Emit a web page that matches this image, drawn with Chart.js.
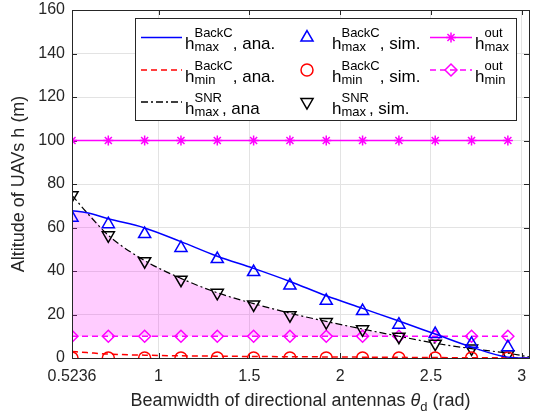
<!DOCTYPE html>
<html lang="en">
<head>
<meta charset="UTF-8">
<title>Altitude of UAVs vs beamwidth</title>
<script src="https://cdn.jsdelivr.net/npm/chart.js"></script>
<style>
    html, body { margin: 0; padding: 0; background: #fff; }
</style>
</head>
<body>
<canvas id="altChart" width="538" height="419"></canvas>
<script>
// x positions (rad)
const thetaSim = [0.5236, 0.7236, 0.9236, 1.1236, 1.3236, 1.5236, 1.7236, 1.9236, 2.1236, 2.3236, 2.5236, 2.7236, 2.9236];
const thetaAna = [0.5236, 0.606, 0.7236, 0.9236, 1.1236, 1.3236, 1.5236, 1.7236, 1.9236, 2.1236, 2.3236, 2.5236, 2.7236, 2.9236, 3.04];

// analytical curves
const backMaxAna = [67.7, 66.8, 64.0, 59.8, 53.5, 46.8, 41.2, 35.2, 28.6, 22.8, 17.0, 11.0, 5.0, 0.4, 0.0];
const backMinAna = [3.0, 2.5, 1.8, 1.3, 1.0, 0.85, 0.7, 0.6, 0.5, 0.4, 0.3, 0.2, 0.12, 0.05, 0.0];
const snrMaxAna = [74.8, 66.8, 56.4, 44.8, 36.6, 30.0, 25.0, 20.6, 16.8, 13.3, 10.0, 6.8, 4.3, 2.2, 0.5];

// simulation points
const backMaxSim = [64.5, 61.5, 57.0, 50.6, 45.5, 39.5, 33.3, 26.3, 21.6, 15.3, 11.0, 6.5, 5.0];
const backMinSim = [0, 0, 0, 0, 0, 0, 0, 0, 0, 0, 0, 0, 0];
const snrMaxSim = [74.8, 56.4, 44.5, 36.0, 30.0, 24.6, 19.7, 16.5, 13.2, 9.8, 6.6, 4.4, 1.7];

// outage bounds
const outMax = [100, 100, 100, 100, 100, 100, 100, 100, 100, 100, 100, 100, 100];
const outMin = [10, 10, 10, 10, 10, 10, 10, 10, 10, 10, 10, 10, 10];

const xTicks = [0.5236, 1, 1.5, 2, 2.5, 3];
const yTicks = [0, 20, 40, 60, 80, 100, 120, 140, 160];

const FONT = '"Liberation Sans", Arial, sans-serif';
const AXIS = '#262626';

function pts(xs, ys) {
    return xs.map((x, i) => ({ x: x, y: ys[i] }));
}

// shaded region: below min(BackC max, SNR max), above h_min^out
const shade = thetaAna.map((t, i) => ({ x: t, y: Math.max(outMin[0], Math.min(backMaxAna[i], snrMaxAna[i])) }));

const legendItems = [
    { col: 0, row: 0, color: '#0000ff', dash: [], sup: 'BackC', sub: 'max', rest: ', ana.' },
    { col: 0, row: 1, color: '#ff0000', dash: [6, 4], sup: 'BackC', sub: 'min', rest: ', ana.' },
    { col: 0, row: 2, color: '#000000', dash: [7, 3, 2, 3], sup: 'SNR', sub: 'max', rest: ', ana' },
    { col: 1, row: 0, color: '#0000ff', marker: 'triangle', rot: 0, r: 7, sup: 'BackC', sub: 'max', rest: ', sim.' },
    { col: 1, row: 1, color: '#ff0000', marker: 'circle', rot: 0, r: 6, sup: 'BackC', sub: 'min', rest: ', sim.' },
    { col: 1, row: 2, color: '#000000', marker: 'triangle', rot: 180, r: 7, sup: 'SNR', sub: 'max', rest: ', sim.' },
    { col: 2, row: 0, color: '#ff00ff', dash: [], marker: 'star', rot: 0, r: 5, sup: 'out', sub: 'max', rest: '' },
    { col: 2, row: 1, color: '#ff00ff', dash: [6, 4], marker: 'rectRot', rot: 0, r: 6, sup: 'out', sub: 'min', rest: '' }
];

function drawScripted(ctx, x, y, sup, sub, rest) {
    ctx.textBaseline = 'alphabetic';
    ctx.textAlign = 'left';
    ctx.font = '17px ' + FONT;
    ctx.fillText('h', x, y);
    x += ctx.measureText('h').width;
    ctx.font = '13px ' + FONT;
    ctx.fillText(sup, x, y - 12);
    ctx.fillText(sub, x, y + 2);
    x += Math.max(ctx.measureText(sup).width, ctx.measureText(sub).width);
    ctx.font = '17px ' + FONT;
    ctx.fillText(rest, x, y);
}

function marker(ctx, item, x, y) {
    ctx.setLineDash([]);
    ctx.strokeStyle = item.color;
    ctx.fillStyle = 'rgba(0,0,0,0)';
    ctx.lineWidth = 1.5;
    Chart.helpers.drawPoint(ctx, { pointStyle: item.marker, radius: item.r, rotation: item.rot, borderWidth: 1.5 }, x, y);
}

const decorPlugin = {
    id: 'decor',
    beforeDatasetsDraw(chart) {
        const ctx = chart.ctx;
        const a = chart.chartArea;
        const xs = chart.scales.x, ys = chart.scales.y;
        ctx.save();
        ctx.strokeStyle = AXIS;
        ctx.lineWidth = 1;
        ctx.beginPath();
        xTicks.forEach(v => {
            const px = Math.round(xs.getPixelForValue(v)) + 0.5;
            ctx.moveTo(px, a.bottom); ctx.lineTo(px, a.bottom - 5);
            ctx.moveTo(px, a.top); ctx.lineTo(px, a.top + 5);
        });
        yTicks.forEach(v => {
            const py = Math.round(ys.getPixelForValue(v)) + 0.5;
            ctx.moveTo(a.left, py); ctx.lineTo(a.left + 5, py);
            ctx.moveTo(a.right, py); ctx.lineTo(a.right - 5, py);
        });
        ctx.stroke();
        ctx.restore();
    },
    afterDraw(chart) {
        const ctx = chart.ctx;
        const a = chart.chartArea;
        ctx.save();

        // box
        ctx.strokeStyle = AXIS;
        ctx.lineWidth = 1;
        ctx.strokeRect(Math.round(a.left) + 0.5, Math.round(a.top) + 0.5, Math.round(a.right - a.left), Math.round(a.bottom - a.top));

        // axis titles
        ctx.fillStyle = AXIS;
        ctx.font = '18px ' + FONT;
        ctx.textBaseline = 'middle';
        ctx.textAlign = 'center';
        ctx.save();
        ctx.translate(19, (a.top + a.bottom) / 2);
        ctx.rotate(-Math.PI / 2);
        ctx.fillText('Altitude of UAVs h (m)', 0, 0);
        ctx.restore();

        const p1 = 'Beamwidth of directional antennas ', p3 = ' (rad)';
        ctx.textAlign = 'left';
        ctx.textBaseline = 'alphabetic';
        ctx.font = '18px ' + FONT;
        const w1 = ctx.measureText(p1).width, w3 = ctx.measureText(p3).width;
        ctx.font = 'italic 18px ' + FONT;
        const w2 = ctx.measureText('\u03b8').width;
        ctx.font = '13px ' + FONT;
        const wd = ctx.measureText('d').width;
        let tx = (a.left + a.right) / 2 - (w1 + w2 + wd + w3) / 2;
        const ty = 406;
        ctx.font = '18px ' + FONT;
        ctx.fillText(p1, tx, ty); tx += w1;
        ctx.font = 'italic 18px ' + FONT;
        ctx.fillText('\u03b8', tx, ty); tx += w2;
        ctx.font = '13px ' + FONT;
        ctx.fillText('d', tx, ty + 5); tx += wd;
        ctx.font = '18px ' + FONT;
        ctx.fillText(p3, tx, ty);

        // legend
        const box = { x: 135, y: 18, w: 381, h: 102 };
        ctx.fillStyle = '#ffffff';
        ctx.fillRect(box.x, box.y, box.w, box.h);
        ctx.strokeStyle = AXIS;
        ctx.lineWidth = 1;
        ctx.strokeRect(box.x + 0.5, box.y + 0.5, box.w, box.h);

        const rowY = [37.5, 70, 102];
        const colX = [
            { s0: 141, s1: 182, m: null, t: 185 },
            { s0: null, s1: null, m: 307, t: 332 },
            { s0: 430, s1: 472, m: 451, t: 475 }
        ];
        legendItems.forEach(item => {
            const c = colX[item.col], y = rowY[item.row];
            if (item.dash) {
                ctx.strokeStyle = item.color;
                ctx.lineWidth = 1.5;
                ctx.setLineDash(item.dash);
                ctx.beginPath();
                ctx.moveTo(c.s0, y); ctx.lineTo(c.s1, y);
                ctx.stroke();
            }
            if (item.marker) {
                marker(ctx, item, c.m !== null ? c.m : (c.s0 + c.s1) / 2, y);
            }
            ctx.setLineDash([]);
            ctx.fillStyle = '#000000';
            drawScripted(ctx, c.t, y + 11.5, item.sup, item.sub, item.rest);
        });
        ctx.restore();
    }
};

Chart.defaults.font.family = FONT;

const ctx = document.getElementById('altChart').getContext('2d');
new Chart(ctx, {
    type: 'line',
    data: {
        datasets: [
            { label: 'h_max^BackC, ana.', data: pts(thetaAna, backMaxAna), borderColor: '#0000ff', borderWidth: 1.5, pointRadius: 0, cubicInterpolationMode: 'monotone', fill: false },
            { label: 'h_min^BackC, ana.', data: pts(thetaAna, backMinAna), borderColor: '#ff0000', borderWidth: 1.5, borderDash: [6, 4], pointRadius: 0, cubicInterpolationMode: 'monotone', fill: false },
            { label: 'h_max^SNR, ana', data: pts(thetaAna, snrMaxAna), borderColor: '#000000', borderWidth: 1.2, borderDash: [7, 3, 2, 3], pointRadius: 0, cubicInterpolationMode: 'monotone', fill: false },
            { label: 'h_max^BackC, sim.', data: pts(thetaSim, backMaxSim), showLine: false, pointStyle: 'triangle', pointRadius: 7, pointBorderWidth: 1.5, pointBorderColor: '#0000ff', pointBackgroundColor: 'rgba(0,0,0,0)' },
            { label: 'h_min^BackC, sim.', data: pts(thetaSim, backMinSim), showLine: false, pointStyle: 'circle', pointRadius: 6, pointBorderWidth: 1.5, pointBorderColor: '#ff0000', pointBackgroundColor: 'rgba(0,0,0,0)' },
            { label: 'h_max^SNR, sim.', data: pts(thetaSim, snrMaxSim), showLine: false, pointStyle: 'triangle', pointRotation: 180, pointRadius: 7, pointBorderWidth: 1.5, pointBorderColor: '#000000', pointBackgroundColor: 'rgba(0,0,0,0)' },
            { label: 'h_max^out', data: pts(thetaSim, outMax), borderColor: '#ff00ff', borderWidth: 1.5, pointStyle: 'star', pointRadius: 5, pointBorderWidth: 1.5, pointBorderColor: '#ff00ff', pointBackgroundColor: 'rgba(0,0,0,0)', fill: false },
            { label: 'h_min^out', data: pts(thetaSim, outMin), borderColor: '#ff00ff', borderWidth: 1.5, borderDash: [6, 4], pointStyle: 'rectRot', pointRadius: 6, pointBorderWidth: 1.5, pointBorderColor: '#ff00ff', pointBackgroundColor: 'rgba(0,0,0,0)', fill: false },
            { label: 'region', data: shade, borderWidth: 0, borderColor: 'rgba(0,0,0,0)', pointRadius: 0, backgroundColor: 'rgba(255,0,255,0.2)', fill: { value: 10 }, cubicInterpolationMode: 'monotone', order: 10 }
        ]
    },
    options: {
        responsive: false,
        animation: false,
        layout: { padding: { top: 10, right: 9, left: 0, bottom: 0 } },
        plugins: { legend: { display: false }, tooltip: { enabled: false } },
        scales: {
            x: {
                type: 'linear', min: 0.5236, max: 3.04,
                afterBuildTicks: s => { s.ticks = xTicks.map(v => ({ value: v })); },
                afterFit: s => { s.height = 61; s.paddingLeft = 0; s.paddingRight = 0; },
                grid: { color: '#e3e3e3', drawTicks: false },
                border: { color: AXIS, width: 1 },
                ticks: { color: AXIS, font: { size: 16 }, padding: 9, maxRotation: 0, autoSkip: false, callback: v => String(v) }
            },
            y: {
                min: 0, max: 160,
                afterBuildTicks: s => { s.ticks = yTicks.map(v => ({ value: v })); },
                afterFit: s => { s.width = 72; s.paddingTop = 0; s.paddingBottom = 0; },
                grid: { color: '#e3e3e3', drawTicks: false },
                border: { color: AXIS, width: 1 },
                ticks: { color: AXIS, font: { size: 16 }, padding: 7, callback: v => String(v) }
            }
        }
    },
    plugins: [decorPlugin]
});
</script>
</body>
</html>
